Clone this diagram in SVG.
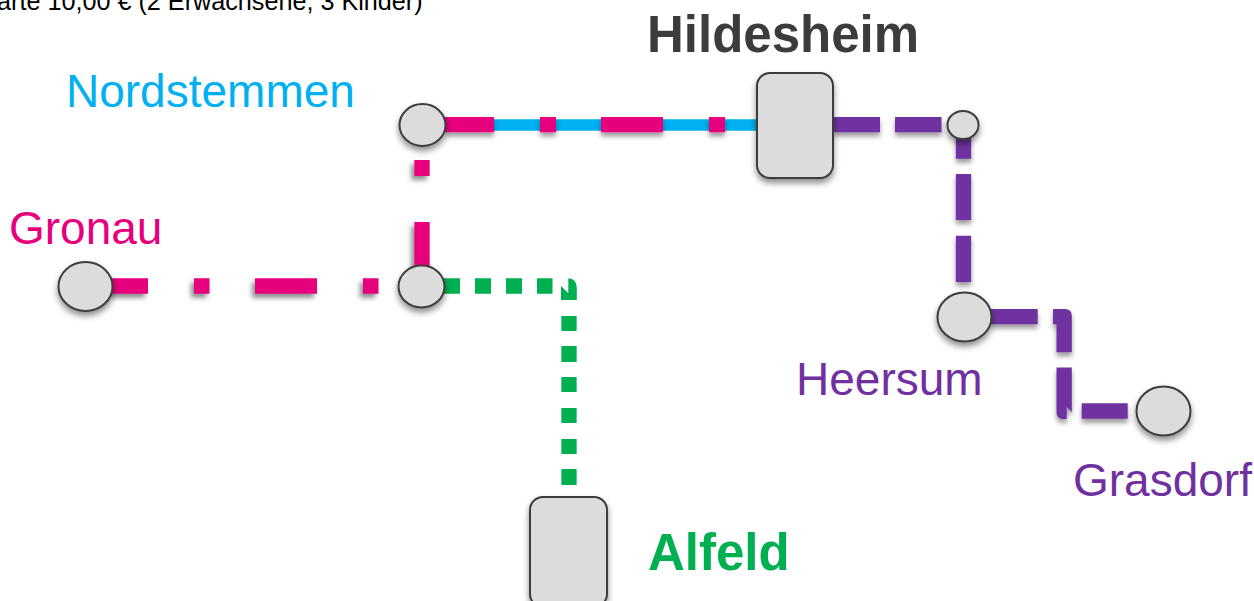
<svg xmlns="http://www.w3.org/2000/svg" width="1254" height="601" viewBox="0 0 1254 601">
<defs>
<filter id="s" x="-30%" y="-30%" width="160%" height="170%"><feDropShadow dx="0" dy="4" stdDeviation="3" flood-color="#000" flood-opacity="0.45"/></filter>
<filter id="sl" filterUnits="userSpaceOnUse" x="0" y="0" width="1254" height="601"><feDropShadow dx="-3" dy="4" stdDeviation="2.500" flood-color="#000" flood-opacity="0.45"/></filter>
<filter id="sr" filterUnits="userSpaceOnUse" x="0" y="0" width="1254" height="601"><feDropShadow dx="0" dy="4" stdDeviation="2.500" flood-color="#000" flood-opacity="0.4"/></filter>
</defs>
<style>
text{font-family:"Liberation Sans",Arial,sans-serif}
.n{fill:#dcdcdc;stroke:#3c3c3c;stroke-width:2;filter:url(#s)}
.l{fill:none;stroke-width:15.300}
.m{stroke:#e6007e}.p{stroke:#7030a0}.g{stroke:#00b050}.b{stroke:#00b0f0;stroke-width:11.700}
</style>
<rect width="1254" height="601" fill="#fff"/>
<text x="-3" y="10" font-size="25.200" fill="#000">arte 10,00 € (2 Erwachsene, 3 Kinder)</text>
<g id="connectors">
<path class="l b" d="M445 125H758"/>
<g filter="url(#sr)"><path class="l m" d="M445 124.700H494M540 124.700H556M601 124.700H663M709 124.700H725"/></g>
<g filter="url(#sr)"><path class="l p" d="M833 124.700H880M895 124.700H941.500"/>
<path class="l p" d="M963.500 136V158.700M963.500 174V220M963.500 235.700V282"/>
<path class="l p" d="M991 316.700H1037.700M1081.700 411H1127.700"/>
<path fill="#7030a0" d="M1053 309H1065Q1071.800 309 1071.800 316V352.300H1056.500V324.300H1053Z"/>
<path fill="#7030a0" d="M1056.500 367.500H1071.800V412L1066.700 407V419H1063Q1056.500 419 1056.500 412Z"/></g>
<g filter="url(#sl)"><path class="l m" d="M422 160V176M422 222V268"/>
<path class="l m" d="M112 286H148M194 286H209.500M255 286H317M363 286H378.500"/></g>
<path class="l g" d="M444 286H460M475 286H491M506 286H522M537 286H552.500M569 316V331M569 346V362M569 377V392M569 408V423M569 439V454M569 469V485"/>
<path fill="#00b050" d="M561 300V286L568.300 293.300V278.300Q576.800 279 576.800 288V300Z"/>
</g>
<g id="n-nordstemmen"><ellipse class="n" cx="422.500" cy="125" rx="23" ry="21"/><text x="66" y="107" font-size="46" fill="#00b0f0">Nordstemmen</text></g>
<g id="n-hildesheim"><rect class="n" x="757" y="73" width="76" height="105" rx="13"/><text x="647" y="52" font-size="51" font-weight="700" fill="#3c3c3c">Hildesheim</text></g>
<g id="n-junction"><ellipse class="n" cx="963" cy="125" rx="15.500" ry="14"/></g>
<g id="n-gronau"><ellipse class="n" cx="85.500" cy="286.500" rx="27" ry="24.500"/><text x="9" y="244" font-size="46" fill="#e6007e">Gronau</text></g>
<g id="n-elze"><ellipse class="n" cx="421.500" cy="286.500" rx="23" ry="21"/></g>
<g id="n-heersum"><ellipse class="n" cx="964.500" cy="317" rx="27" ry="24.500"/><text x="796" y="395" font-size="46" fill="#7030a0">Heersum</text></g>
<g id="n-grasdorf"><ellipse class="n" cx="1163.500" cy="411" rx="27" ry="24.500"/><text x="1073" y="496" font-size="46" fill="#7030a0">Grasdorf</text></g>
<g id="n-alfeld"><rect class="n" x="530" y="497" width="77" height="110" rx="13"/><text x="648" y="570" font-size="51" font-weight="700" fill="#00b050">Alfeld</text></g>
</svg>
